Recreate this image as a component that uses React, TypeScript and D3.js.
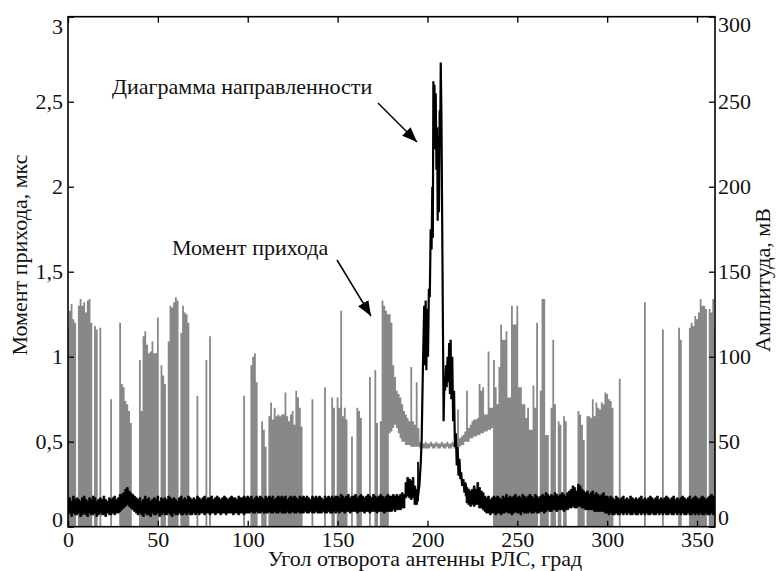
import { useEffect, useRef } from 'react';
import * as d3 from 'd3';

// Момент прихода (мкс): верх сигнала для каждого градуса 0..360
const momentTop = [
    1.17, 1.27, 1.31, 1.22, 1.2, 0, 1.3, 1.34, 1.3, 1.32,
    1.26, 1.33, 1.34, 1.2, 0, 1.18, 1.16, 0, 1.17, 0,
    0, 0, 0, 0, 0.75, 0, 0, 0, 0, 1.2,
    0.84, 0.82, 0.74, 0.72, 0.68, 0.61, 0, 0, 0, 0,
    0.98, 0.68, 1.12, 1.15, 1.07, 1.02, 1.03, 1.09, 1.02, 1.02,
    1.23, 0, 0.95, 0.89, 0.84, 0, 1.09, 1.3, 1.29, 1.32,
    1.35, 1.33, 0, 1.14, 1.3, 1.26, 1.25, 1.2, 0, 0,
    0, 0, 0.77, 0, 0, 0, 0, 0.98, 0, 1.12,
    0, 0, 0, 0, 0, 0, 0, 0, 0, 0,
    0, 0, 0, 0, 0, 0, 0, 0, 0.77, 0,
    0, 0, 0.95, 1.0, 1.02, 0.85, 0, 0, 0.62, 0.57,
    0.47, 0, 0.65, 0.73, 0.63, 0.7, 0.65, 0.66, 0.65, 0.66,
    0.66, 0.79, 0.65, 0.62, 0.66, 0.68, 0.6, 0.8, 0.76, 0.7,
    0.59, 0, 0, 0, 0, 0, 0.75, 0, 0, 0,
    0, 0, 0, 0.82, 0, 0, 0, 0.76, 0.7, 0,
    0.76, 0.7, 1.27, 0.65, 0.7, 0.63, 0, 0, 0.53, 0,
    0, 0.7, 0.68, 0.64, 0, 0, 0, 0, 0.88, 0,
    0, 0.92, 0.61, 0, 0.62, 1.33, 1.3, 1.27, 1.25, 1.25,
    1.2, 0.95, 0.88, 0.8, 0.78, 0.76, 0.72, 0.68, 0.66, 0.64,
    0.62, 0.94, 0.62, 0.6, 0.85, 0.58, 0.5, 0.49, 0.49, 0.5,
    0.49, 0.49, 0.5, 0.49, 0.49, 0.5, 0.49, 0.49, 0.5, 0.49,
    0.49, 0.5, 0.49, 0.49, 0.5, 0.49, 0.5, 0.69, 0.52, 0.53,
    0.54, 0.56, 0.8, 0.58, 0.6, 0.62, 0.63, 0.63, 0.64, 0.84,
    0.8, 0.82, 0.66, 0.66, 1.03, 0.7, 0.7, 0.98, 0.82, 0.72,
    0.94, 1.19, 1.1, 1.1, 1.15, 0.76, 0.76, 1.3, 1.19, 1.19,
    1.3, 0.82, 0.82, 0.72, 0.72, 0.64, 0.7, 0.57, 0.57, 0.83,
    0.7, 1.2, 0, 0.8, 1.34, 1.34, 0.54, 0.54, 0, 0.7,
    1.1, 0.72, 0, 0.62, 0.6, 0, 0.65, 0.62, 0, 0,
    0, 0, 0, 0, 0.68, 0.66, 0.6, 0.51, 0, 0.65,
    0.65, 0.64, 0.75, 0.65, 0.73, 0.7, 0.69, 0.73, 0.72, 0.79,
    0.78, 0.75, 0.74, 0.7, 0, 0, 0, 0.87, 0, 0,
    0, 0, 0, 0, 0, 0, 0, 0, 0, 0,
    0, 1.32, 0, 0, 0, 0, 0, 0, 0, 0,
    0, 1.16, 0, 0, 0, 0, 0, 0, 0, 0,
    1.17, 1.1, 0, 0, 0, 0, 1.17, 1.2, 1.18, 1.24,
    1.22, 1.26, 1.34, 1.3, 1.3, 1.28, 0, 1.28, 1.26, 1.34,
    1.16,
];

// нижняя граница сигнала на участке без провалов (179..236 град)
const floorStart = 179;
const momentFloor = [
    0.55, 0.56, 0.58, 0.6, 0.58, 0.55, 0.52, 0.5, 0.5, 0.48, 0.48,
    0.48, 0.47, 0.47, 0.47, 0.47, 0.47, 0.46, 0.46, 0.46, 0.46,
    0.46, 0.46, 0.47, 0.46, 0.46, 0.47, 0.46, 0.46, 0.47, 0.46,
    0.46, 0.47, 0.46, 0.46, 0.47, 0.46, 0.46, 0.47, 0.47, 0.48,
    0.48, 0.5, 0.5, 0.5, 0.52, 0.52, 0.53, 0.53, 0.54, 0.54,
    0.55, 0.55, 0.56, 0.56, 0.57, 0.57, 0.58,
];

// Диаграмма направленности (мВ), шумовая полоса вне главного лепестка: макс/мин по градусам 0..360
const ampHigh = [
    16, 17, 15, 18, 16, 17, 16, 15, 17, 18, 16, 15, 17, 16, 18, 17, 15, 16, 17, 16, 18, 16, 15, 17, 16, 17, 18, 16, 17, 19,
    19, 20, 22, 23, 21, 20, 19, 18, 17,
    16, 17, 15, 16, 18, 16, 17, 15, 16, 17, 16, 18, 15, 17, 16, 17, 16, 18, 17, 16, 17, 16, 15, 17, 18, 16, 17, 16, 18, 17, 16,
    17, 16, 18, 17, 16, 17, 18, 16, 17, 17, 18, 16, 17, 18, 17, 16, 17, 18, 17, 16, 17, 18, 17, 17, 16, 18, 17, 17, 18, 17,
    18, 17, 18, 16, 17, 18, 17, 18, 17, 16, 18, 17, 18, 17, 18, 16, 17, 18, 17, 18, 17, 18, 16, 17, 18, 17, 18, 17, 16, 18,
    17, 18, 17, 18, 17, 16, 18, 17, 18, 17, 18, 17, 16, 18, 17, 18, 17, 18, 17, 18,
    18, 17, 19, 18, 17, 18, 19, 17, 18, 18, 19, 17, 18, 19, 18, 17, 18, 19, 18, 17, 19, 18, 17, 18, 19, 18, 17, 18, 19, 18,
    18, 19, 18, 19, 18, 19, 20, 19,
    26, 29, 28, 27, 29, 24,
    22, 38, 62, 90, 130, 135, 140, 178, 205, 262, 262, 255, 248, 273, 250, 140, 85, 100, 108, 110,
    100, 80, 55, 47, 40, 32, 28, 26, 23, 22, 21, 22, 24, 22, 26, 23, 21, 20,
    18, 17, 18, 16, 17, 18, 17, 18, 17, 16, 18, 17, 19, 17, 18, 17, 18, 19, 17, 18, 17, 19, 18, 17, 18, 19, 18, 17, 19, 18,
    17, 18, 19, 18, 20, 19, 18, 19, 18, 20, 19, 18, 19, 20, 19, 18, 20, 21, 22, 24, 23, 21, 25, 24, 22, 21, 20, 21, 19, 20,
    21, 19, 20, 19, 18, 19, 20, 18,
    18, 17, 18, 17, 16, 18, 17, 16, 17, 18, 16, 17, 16, 18, 17, 16, 17, 16, 17, 18, 16, 17, 16, 17, 18, 17, 16, 17, 18, 16,
    17, 16, 17, 18, 17, 16, 17, 18, 16, 17, 16, 17, 18, 17, 16, 17, 18, 16, 17, 18, 17, 16, 17, 18, 17, 16, 17, 18, 19, 18,
    17,
];

const ampLow = [
    7, 8, 6, 8, 7, 7, 8, 6, 7, 8, 7, 6, 8, 7, 7, 8, 6, 7, 8, 7, 7, 6, 8, 7, 7, 8, 7, 8, 8, 9,
    10, 11, 12, 13, 12, 11, 10, 9, 8,
    7, 8, 7, 6, 8, 7, 7, 6, 8, 7, 7, 8, 6, 7, 8, 7, 7, 8, 7, 6, 8, 7, 7, 8, 7, 7, 8, 7, 8, 7, 7,
    8, 7, 8, 7, 8, 8, 7, 8, 8, 7, 8, 8, 7, 8, 8, 7, 8, 8, 7, 8, 8, 8, 7, 8, 8, 7, 8, 8, 7, 8,
    8, 8, 9, 8, 8, 9, 8, 8, 9, 8, 8, 8, 9, 8, 8, 9, 8, 8, 9, 8, 8, 8, 9, 8, 8, 9, 8, 8, 9, 8,
    8, 8, 9, 8, 8, 9, 8, 8, 9, 8, 8, 8, 9, 8, 8, 9, 8, 8, 9, 8,
    9, 8, 9, 9, 8, 9, 9, 8, 9, 9, 9, 8, 9, 9, 9, 8, 9, 9, 8, 9, 9, 9, 8, 9, 9, 9, 8, 9, 9, 9,
    9, 10, 9, 10, 10, 10, 11, 11,
    17, 18, 17, 16, 17, 13,
    13, 15, 35, 55, 82, 95, 92, 130, 160, 170, 205, 185, 182, 200, 130, 62, 62, 80, 78, 75,
    60, 42, 36, 30, 28, 24, 20, 18, 14, 13, 12, 13, 12, 13, 13, 11, 11, 10,
    9, 8, 8, 7, 8, 8, 7, 8, 8, 7, 8, 8, 9, 8, 8, 7, 8, 9, 8, 8, 7, 9, 8, 8, 8, 9, 8, 8, 9, 8,
    8, 9, 9, 8, 9, 10, 9, 9, 10, 10, 9, 10, 10, 10, 9, 10, 10, 11, 11, 12, 11, 11, 12, 12, 11, 11, 10, 10, 10, 10,
    10, 9, 9, 9, 9, 9, 9, 8,
    8, 7, 8, 7, 7, 8, 7, 7, 8, 7, 8, 7, 8, 7, 7, 8, 7, 7, 8, 7, 8, 7, 8, 7, 7, 8, 7, 7, 8, 7,
    8, 7, 8, 7, 7, 8, 7, 7, 8, 7, 8, 7, 8, 7, 7, 8, 7, 7, 8, 7, 8, 7, 8, 7, 7, 8, 7, 7, 8, 7,
    7,
];

// главный лепесток (194.5..222 град): ход кривой, мВ
const lobeAngles = [
    194.5, 195.5, 196.3, 196.8, 197.5, 198.2, 198.6, 199.0, 199.4, 199.8, 200.3, 200.8, 201.3, 201.8, 202.3,
    202.7, 203.0, 203.3, 203.6, 203.9, 204.2, 204.6, 205.0, 205.4, 205.7, 206.0, 206.4, 206.8, 207.1, 207.4,
    207.8, 208.2, 208.6, 209.0, 209.4, 209.8, 210.3, 210.7, 211.2, 211.6, 212.1, 212.5, 212.9, 213.3, 213.8,
    214.3, 214.8, 215.3, 215.8, 216.3, 216.8, 217.3, 217.8, 218.3, 218.8, 219.3, 220.0, 220.6, 221.3, 222.0,
];
const lobeAmps = [
    16, 24, 38, 52, 95, 130, 95, 133, 92, 128, 100, 140, 135, 175, 163,
    200, 170, 262, 225, 260, 222, 255, 210, 235, 180, 230, 185, 245, 228, 273,
    240, 180, 120, 62, 85, 80, 95, 82, 100, 85, 108, 78, 110, 75, 100,
    62, 80, 47, 55, 36, 47, 30, 40, 28, 32, 24, 28, 20, 25, 18,
];

const xTicks = [0, 50, 100, 150, 200, 250, 300, 350];
const leftTicks = [0, 0.5, 1, 1.5, 2, 2.5, 3];
const rightTicks = [0, 50, 100, 150, 200, 250, 300];

const FONT = '"Liberation Serif", "Times New Roman", Times, serif';
const FONT_SIZE = '22px';

export default function App() {
    const svgRef = useRef<SVGSVGElement>(null);

    useEffect(() => {
        if (!svgRef.current) return;
        const svg = d3.select(svgRef.current);
        svg.selectAll('*').remove();

        const left = 68;
        const right = 715;
        const top = 16.7;
        const bottom = 526.7;

        const x = d3.scaleLinear().domain([0, 360]).range([left, right]);
        const yL = d3.scaleLinear().domain([0, 3]).range([bottom, top]);
        const yR = d3.scaleLinear().domain([0, 300]).range([bottom, top]);

        const defs = svg.append('defs');
        defs.append('clipPath')
            .attr('id', 'plot-clip')
            .append('rect')
            .attr('x', left)
            .attr('y', top)
            .attr('width', right - left)
            .attr('height', bottom - top);
        defs.append('marker')
            .attr('id', 'arrow')
            .attr('markerUnits', 'userSpaceOnUse')
            .attr('markerWidth', 16)
            .attr('markerHeight', 12)
            .attr('refX', 15)
            .attr('refY', 6)
            .attr('orient', 'auto')
            .append('path')
            .attr('d', 'M0,0 L15,6 L0,12 Z')
            .attr('fill', '#000');

        const plot = svg.append('g').attr('clip-path', 'url(#plot-clip)');

        // серый сигнал: заливка между нижней и верхней границей, ступеньками по градусам
        type Band = { angle: number; lo: number; hi: number };
        const moment: Band[] = momentTop.map((hi, i) => {
            const k = i - floorStart;
            const lo = k >= 0 && k < momentFloor.length ? momentFloor[k] : 0;
            return { angle: i, lo, hi };
        });
        const momentArea = d3
            .area<Band>()
            .x((d) => x(d.angle))
            .y0((d) => yL(d.lo))
            .y1((d) => yL(d.hi))
            .curve(d3.curveStep);
        plot.append('path').datum(moment).attr('d', momentArea).attr('fill', '#888888');

        // чёрная шумовая полоса диаграммы направленности
        const amp: Band[] = ampHigh.map((hi, i) => ({ angle: i, lo: ampLow[i], hi }));
        const ampArea = d3
            .area<Band>()
            .defined((d) => d.angle <= 195 || d.angle >= 221)
            .x((d) => x(d.angle))
            .y0((d) => yR(d.lo))
            .y1((d) => yR(d.hi))
            .curve(d3.curveStep);
        plot.append('path')
            .datum(amp)
            .attr('d', ampArea)
            .attr('fill', '#000')
            .attr('stroke', '#000')
            .attr('stroke-width', 0.8);

        // главный лепесток
        const lobe = d3
            .line<number>()
            .x((_, i) => x(lobeAngles[i]))
            .y((d) => yR(d));
        plot.append('path')
            .datum(lobeAmps)
            .attr('d', lobe)
            .attr('fill', 'none')
            .attr('stroke', '#000')
            .attr('stroke-width', 2.2)
            .attr('stroke-linejoin', 'bevel');

        // оси
        const styleAxis = (g: d3.Selection<SVGGElement, unknown, null, undefined>) => {
            g.select('.domain').remove();
            g.selectAll('line').attr('stroke', '#000').attr('stroke-width', 1.3);
            g.selectAll('text')
                .style('font-family', FONT)
                .style('font-size', FONT_SIZE)
                .attr('fill', '#111');
        };
        const comma = (d: d3.NumberValue) => String(d).replace('.', ',');

        svg.append('g')
            .attr('transform', `translate(0,${bottom})`)
            .call(d3.axisBottom(x).tickValues(xTicks).tickSize(-6).tickPadding(5).tickFormat(comma))
            .call(styleAxis);

        svg.append('g')
            .attr('transform', `translate(0,${top})`)
            .call(d3.axisTop(x).tickValues(xTicks).tickSize(-6).tickFormat(() => ''))
            .call(styleAxis);

        const leftAxis = svg
            .append('g')
            .attr('transform', `translate(${left},0)`)
            .call(d3.axisLeft(yL).tickValues(leftTicks).tickSize(-6).tickPadding(5).tickFormat(comma))
            .call(styleAxis);
        leftAxis.selectAll<SVGTextElement, number>('text').attr('y', (d) => (d === 0 ? -7 : d === 3 ? 10 : 0));

        const rightAxis = svg
            .append('g')
            .attr('transform', `translate(${right},0)`)
            .call(d3.axisRight(yR).tickValues(rightTicks).tickSize(-6).tickPadding(3).tickFormat(comma))
            .call(styleAxis);
        rightAxis.selectAll<SVGTextElement, number>('text').attr('y', (d) => (d === 0 ? -9 : d === 300 ? 8 : 0));

        // рамка
        svg.append('rect')
            .attr('x', left)
            .attr('y', top)
            .attr('width', right - left)
            .attr('height', bottom - top)
            .attr('fill', 'none')
            .attr('stroke', '#000')
            .attr('stroke-width', 1.6);

        // подписи
        const label = (txt: string, tx: number, ty: number, rot = 0, anchor = 'middle') =>
            svg.append('text')
                .attr('transform', `translate(${tx},${ty}) rotate(${rot})`)
                .attr('text-anchor', anchor)
                .style('font-family', FONT)
                .style('font-size', FONT_SIZE)
                .attr('fill', '#111')
                .text(txt);

        label('Угол отворота антенны РЛС, град', 425, 566);
        label('Момент прихода, мкс', 27, 255, -90);
        label('Амплитуда, мВ', 770, 280, -90);

        label('Диаграмма направленности', 112, 94, 0, 'start');
        label('Момент прихода', 172, 255, 0, 'start');

        svg.append('line')
            .attr('x1', 378).attr('y1', 103)
            .attr('x2', 417).attr('y2', 142)
            .attr('stroke', '#000').attr('stroke-width', 1.5)
            .attr('marker-end', 'url(#arrow)');
        svg.append('line')
            .attr('x1', 337).attr('y1', 260)
            .attr('x2', 371).attr('y2', 316)
            .attr('stroke', '#000').attr('stroke-width', 1.5)
            .attr('marker-end', 'url(#arrow)');
    }, []);

    return (
        <svg
            ref={svgRef}
            width={777}
            height={571}
            style={{ position: 'absolute', left: 0, top: 0, background: '#fff' }}
        />
    );
}
